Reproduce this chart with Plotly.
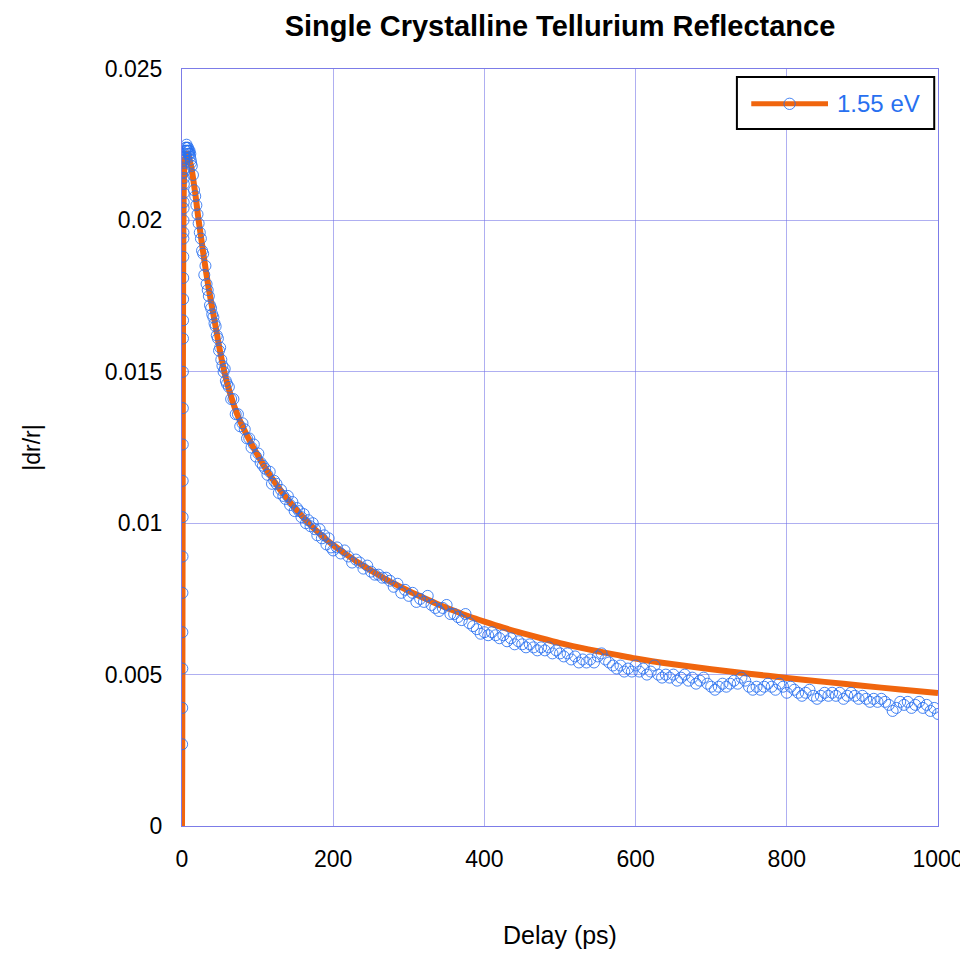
import plotly.graph_objects as go

# ---- measured data (delay in ps, |dr/r|) ----
t_rise = [0.2, 0.3, 0.4, 0.5, 0.6, 0.7, 0.8, 0.9, 1.0, 1.1, 1.2, 1.3, 1.4, 1.5, 1.6,
          1.7, 1.8, 1.9, 2.0, 2.1, 2.2, 2.3, 2.4, 2.5, 2.6, 2.7, 2.8, 2.9, 3.0]
y_rise = [0.0027, 0.0039, 0.0052, 0.0064, 0.0077, 0.0089, 0.0102, 0.0114, 0.0126, 0.0138,
          0.0150, 0.0161, 0.0167, 0.0174, 0.0181, 0.0188, 0.0194, 0.0196, 0.0200, 0.0204,
          0.0206, 0.0209, 0.0212, 0.0214, 0.0216, 0.0217, 0.0219, 0.0220, 0.0221]

t_peak = [3.5, 4, 4.5, 5, 5.5, 6, 6.5, 7, 7.5, 8, 8.5, 9, 9.5, 10, 10.5, 11, 11.5, 12]
y_peak = [0.0222, 0.0223, 0.0224, 0.0223, 0.0224, 0.0225, 0.0223, 0.0224, 0.0223, 0.0224,
          0.0222, 0.0223, 0.0222, 0.0223, 0.0221, 0.0222, 0.0220, 0.0219]

t_early = [13, 14.5, 16, 17.5, 19, 20.5, 22, 23.5, 25, 26.5, 28, 29.5, 31, 32.5, 34, 35.5,
           37, 38.5, 40, 41.5, 43, 44.5, 46, 47.5, 49, 50.5, 52, 53.5, 55, 56.5, 58, 59.5]
y_early = [0.0218, 0.0215, 0.0210, 0.0208, 0.0205, 0.0202, 0.0199, 0.0196, 0.0194, 0.0190,
           0.0189, 0.0182, 0.0185, 0.0179, 0.0177, 0.0175, 0.0172, 0.0171, 0.0169, 0.0168,
           0.0166, 0.0165, 0.0162, 0.0161, 0.0157, 0.0158, 0.0154, 0.0152, 0.0150, 0.0151,
           0.0147, 0.0146]

t_mid = [62, 65, 68, 71, 74, 77, 80, 83, 86, 89, 92, 95, 98, 101, 104, 107, 110, 113, 116, 119,
         122, 125, 128, 131, 134, 137, 140, 143, 146, 149, 152, 155, 158, 161, 164, 167, 170,
         173, 176, 179, 182, 185, 188, 191, 194, 197, 200]
y_mid = [0.0145, 0.0141, 0.0141, 0.0136, 0.0136, 0.0132, 0.0133, 0.0131, 0.0128, 0.0128,
         0.0125, 0.0126, 0.0122, 0.0123, 0.0120, 0.0119, 0.0118, 0.0116, 0.0117, 0.0113,
         0.0114, 0.0113, 0.0110, 0.0111, 0.0109, 0.0108, 0.0109, 0.0106, 0.0107, 0.0104,
         0.0105, 0.0104, 0.0102, 0.0103, 0.0100, 0.0101, 0.0099, 0.0100, 0.0098, 0.0096,
         0.0098, 0.0095, 0.0096, 0.0093, 0.0095, 0.0092, 0.0091]

t_late = [205, 210, 215, 220, 225, 230, 235, 240, 245, 250, 255, 260, 265, 270, 275, 280,
          285, 290, 295, 300, 305, 310, 315, 320, 325, 330, 335, 340, 345, 350, 355, 360,
          365, 370, 375, 380, 385, 390, 395, 400, 405, 410, 415, 420, 425, 430, 435, 440,
          445, 450, 455, 460, 465, 470, 475, 480, 485, 490, 495, 500, 505, 510, 515, 520,
          525, 530, 535, 540, 545, 550, 555, 560, 565, 570, 575, 580, 585, 590, 595, 600,
          605, 610, 615, 620, 625, 630, 635, 640, 645, 650, 655, 660, 665, 670, 675, 680,
          685, 690, 695, 700, 705, 710, 715, 720, 725, 730, 735, 740, 745, 750, 755, 760,
          765, 770, 775, 780, 785, 790, 795, 800, 805, 810, 815, 820, 825, 830, 835, 840,
          845, 850, 855, 860, 865, 870, 875, 880, 885, 890, 895, 900, 905, 910, 915, 920,
          925, 930, 935, 940, 945, 950, 955, 960, 965, 970, 975, 980, 985, 990, 995, 1000]
y_late = [0.0092, 0.0090, 0.0091, 0.0089, 0.0087, 0.0088, 0.0087, 0.0085, 0.0086, 0.0084,
          0.0083, 0.0083, 0.0082, 0.0082, 0.0081, 0.0079, 0.0080, 0.0077, 0.0078, 0.0076,
          0.0077, 0.0074, 0.0075, 0.0074, 0.0076, 0.0073, 0.0072, 0.0071, 0.0072, 0.0073,
          0.0070, 0.0070, 0.0069, 0.0068, 0.0070, 0.0067, 0.0066, 0.0065, 0.00635, 0.0064,
          0.0063, 0.0064, 0.0063, 0.0062, 0.0063, 0.0061, 0.0062, 0.0060, 0.0061, 0.0060,
          0.0059, 0.0060, 0.0059, 0.0058, 0.0059, 0.0058, 0.0059, 0.0057, 0.0058, 0.0057,
          0.0056, 0.0057, 0.0055, 0.0056, 0.0054, 0.0055, 0.0054, 0.0055, 0.0054, 0.0056,
          0.0057, 0.0055, 0.0054, 0.0053, 0.0052, 0.0053, 0.0051, 0.0052, 0.0051, 0.0053,
          0.0051, 0.0052, 0.0050, 0.0051, 0.0053, 0.0050, 0.0049, 0.0050, 0.0049, 0.0050,
          0.0048, 0.0049, 0.0050, 0.0048, 0.0049, 0.0047, 0.0048, 0.0049, 0.0047, 0.0046,
          0.0045, 0.0046, 0.0047, 0.0046, 0.0047, 0.0048, 0.0047, 0.0049, 0.0048, 0.0046,
          0.0045, 0.0046, 0.0045, 0.0046, 0.0047, 0.0046, 0.0045, 0.0047, 0.0046, 0.0044,
          0.0046, 0.0045, 0.0044, 0.0043, 0.0044, 0.0045, 0.0043, 0.0042, 0.0043, 0.0044,
          0.0043, 0.0044, 0.0043, 0.0044, 0.0042, 0.0043, 0.0044, 0.0043, 0.0042, 0.0043,
          0.0042, 0.0041, 0.0042, 0.0041, 0.0042, 0.0041, 0.0040, 0.0038, 0.0039, 0.0041,
          0.0040, 0.0041, 0.0039, 0.0040, 0.0041, 0.0039, 0.0040, 0.0038, 0.0039, 0.0037]

# ---- fitted curve ----
t_fit = [0, 0.3, 0.6, 0.9, 1.2, 1.5, 1.8, 2.2, 2.7, 3.5, 4.5, 6, 8, 10, 12, 14, 18, 22, 26,
         30, 35, 40, 45, 50, 56, 60, 65, 70, 75, 80, 90, 100, 110, 120, 130, 140, 150, 160,
         170, 180, 190, 200, 220, 240, 260, 280, 300, 320, 340, 360, 380, 400, 425, 450, 475,
         500, 525, 550, 575, 600, 650, 700, 750, 800, 850, 900, 950, 1000]
y_fit = [0, 0.002, 0.006, 0.011, 0.015, 0.0180, 0.0197, 0.0208, 0.0215, 0.0219, 0.0221,
         0.0222, 0.0222, 0.0220, 0.0218, 0.0215, 0.0208, 0.0200, 0.0193, 0.0186, 0.0178,
         0.0171, 0.01642, 0.01572, 0.0150, 0.0146, 0.01418, 0.0138, 0.01348, 0.0132, 0.0127,
         0.01225, 0.01183, 0.01145, 0.0111, 0.01078, 0.01048, 0.0102, 0.00994, 0.0097,
         0.00948, 0.00928, 0.00892, 0.00859, 0.00829, 0.00801, 0.00776, 0.00753, 0.00731,
         0.00711, 0.00692, 0.00675, 0.00655, 0.00637, 0.0062, 0.00604, 0.0059, 0.00577,
         0.00565, 0.00553, 0.00534, 0.00518, 0.00503, 0.00489, 0.00476, 0.00463, 0.00451,
         0.00439]

x_ticks = [0, 200, 400, 600, 800, 1000]
y_ticks = [0, 0.005, 0.01, 0.015, 0.02, 0.025]
y_tick_text = ["0", "0.005", "0.01", "0.015", "0.02", "0.025"]

series_name = "1.55 eV"

t_data = t_rise + t_peak + t_early + t_mid + t_late
y_data = y_rise + y_peak + y_early + y_mid + y_late

BLUE = "rgba(40,112,240,0.85)"
BLUE_TXT = "rgb(40,112,240)"
ORANGE = "#f0650e"
GRID = "rgba(110,110,230,0.55)"
AXIS = "rgba(110,110,230,0.9)"
FONT = "Arial, Liberation Sans, sans-serif"

fig = go.Figure()
fig.add_trace(go.Scatter(
    x=t_fit, y=y_fit, mode="lines", line=dict(color=ORANGE, width=6, shape="spline", smoothing=0.6),
    showlegend=False, hoverinfo="skip"))
fig.add_trace(go.Scatter(
    x=t_data, y=y_data, mode="markers", name=series_name,
    marker=dict(symbol="circle-open", size=11, color=BLUE, line=dict(width=1, color=BLUE)),
    showlegend=False))

# legend box drawn in paper coordinates (line + marker + label, like the original)
leg_shapes = [
    dict(type="rect", xref="paper", yref="paper", x0=0.734, x1=0.995, y0=0.9207, y1=0.9894,
         line=dict(color="black", width=2), fillcolor="white", layer="above"),
    dict(type="line", xref="paper", yref="paper", x0=0.753, x1=0.8545, y0=0.954, y1=0.954,
         line=dict(color=ORANGE, width=5), layer="above"),
    dict(type="circle", xref="paper", yref="paper", x0=0.7962, x1=0.8112, y0=0.9465, y1=0.9615,
         line=dict(color=BLUE, width=1), fillcolor="rgba(0,0,0,0)", layer="above"),
]

fig.update_layout(
    width=960, height=941,
    margin=dict(l=174, r=30, t=61, b=123, autoexpand=False),
    paper_bgcolor="white", plot_bgcolor="white",
    font=dict(family=FONT, size=23, color="black"),
    title=dict(text="<b>Single Crystalline Tellurium Reflectance</b>",
               x=0.5, xref="paper", xanchor="center",
               y=1 - 18 / 941, yref="container", yanchor="middle",
               font=dict(family=FONT, size=29, color="black")),
    showlegend=False,
    shapes=leg_shapes,
    annotations=[dict(text=series_name, xref="paper", yref="paper", x=0.864, y=0.954,
                      xanchor="left", yanchor="middle", showarrow=False,
                      font=dict(family=FONT, size=24, color=BLUE_TXT))],
)
fig.update_xaxes(
    range=[0, 1000], tickvals=x_ticks, ticktext=[str(v) for v in x_ticks],
    showgrid=True, gridcolor=GRID, gridwidth=1,
    showline=True, linecolor=AXIS, linewidth=1, mirror=True,
    zeroline=False, ticks="outside", ticklen=12, tickcolor="rgba(0,0,0,0)",
    tickfont=dict(family=FONT, size=23, color="black"), automargin=False,
    title=dict(text="Delay (ps)", standoff=61, font=dict(family=FONT, size=25, color="black")),
)
fig.update_yaxes(
    range=[0, 0.025], tickvals=y_ticks, ticktext=y_tick_text,
    showgrid=True, gridcolor=GRID, gridwidth=1,
    showline=True, linecolor=AXIS, linewidth=1, mirror=True,
    zeroline=False, ticks="outside", ticklen=14, tickcolor="rgba(0,0,0,0)",
    tickfont=dict(family=FONT, size=23, color="black"), automargin=False,
    title=dict(text="|dr/r|", standoff=57, font=dict(family=FONT, size=23, color="black")),
)

fig.write_html("out.html")
